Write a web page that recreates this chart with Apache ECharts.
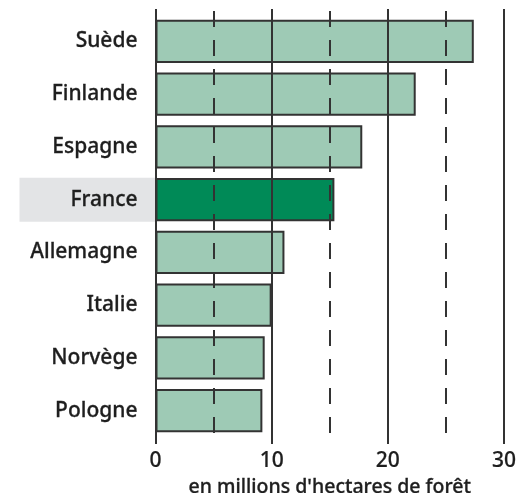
<!DOCTYPE html>
<html>
<head>
<meta charset="utf-8">
<script src="https://cdn.jsdelivr.net/npm/echarts@6/dist/echarts.min.js"></script>
<style>html,body{margin:0;padding:0;background:#fff}#c{width:517px;height:493px}</style>
</head>
<body>
<div id="c"></div>
<script>
const categories = ['Suède', 'Finlande', 'Espagne', 'France', 'Allemagne', 'Italie', 'Norvège', 'Pologne'];
const values = [27.4, 22.4, 17.8, 15.4, 11.1, 10.0, 9.4, 9.2];
const highlighted = 'France';
const xMin = 0, xMax = 30, majorStep = 10, minorStep = 5;
const axisTitle = "en millions d'hectares de forêt";

const lightFill = '#9ecab5', darkFill = '#008a57', ink = '#333333';
const chart = echarts.init(document.getElementById('c'), null, {renderer: 'canvas'});
const font = 'Noto Sans';
const labelStyle = {fontFamily: font, fontSize: 21, fontWeight: 500, color: '#1e1e1e',
                    textBorderColor: '#1e1e1e', textBorderWidth: 0.3};

chart.setOption({
  animation: false,
  grid: [
    {left: 155.5, right: 13, top: 15, bottom: 56, outerBoundsMode: 'none', containLabel: false},
    {left: 155.5, right: 13, top: 9, bottom: 49, outerBoundsMode: 'none', containLabel: false}
  ],
  xAxis: [
    {gridIndex: 0, type: 'value', min: xMin, max: xMax, show: false},
    {gridIndex: 1, type: 'value', min: xMin, max: xMax, interval: majorStep, z: 6,
     axisLine: {show: false}, axisTick: {show: false},
     splitLine: {show: true, lineStyle: {color: ink, width: 2}},
     axisLabel: Object.assign({margin: 7}, labelStyle, {textBorderWidth: 0.2}),
     name: axisTitle, nameLocation: 'middle', nameGap: 30,
     nameTextStyle: Object.assign({}, labelStyle, {fontSize: 19.5})},
    {gridIndex: 1, type: 'value', min: xMin, max: xMax, interval: minorStep, z: 5,
     axisLine: {show: false}, axisTick: {show: false}, axisLabel: {show: false},
     splitLine: {show: true, lineStyle: {color: ink, width: 2, type: [16, 13], dashOffset: 27}}}
  ],
  yAxis: [
    {gridIndex: 0, type: 'category', data: categories, inverse: true,
     axisLine: {show: false}, axisTick: {show: false},
     axisLabel: {
       margin: 0,
       formatter: v => v === highlighted ? '{hl|' + v + '}' : '{n|' + v + '}',
       rich: {
         n: Object.assign({padding: [0, 18, 0, 0]}, labelStyle),
         hl: Object.assign({padding: [0, 18, 0, 0], width: 118, height: 44, lineHeight: 44,
              align: 'right', backgroundColor: '#e3e4e6'}, labelStyle)
       }
     }},
    {gridIndex: 1, type: 'value', show: false}
  ],
  series: [{
    type: 'bar', xAxisIndex: 0, yAxisIndex: 0, z: 2,
    barCategoryGap: '18%',
    data: categories.map((c, i) => ({
      value: values[i],
      itemStyle: {color: c === highlighted ? darkFill : lightFill, borderColor: ink, borderWidth: 2}
    }))
  }]
});
</script>
</body>
</html>
